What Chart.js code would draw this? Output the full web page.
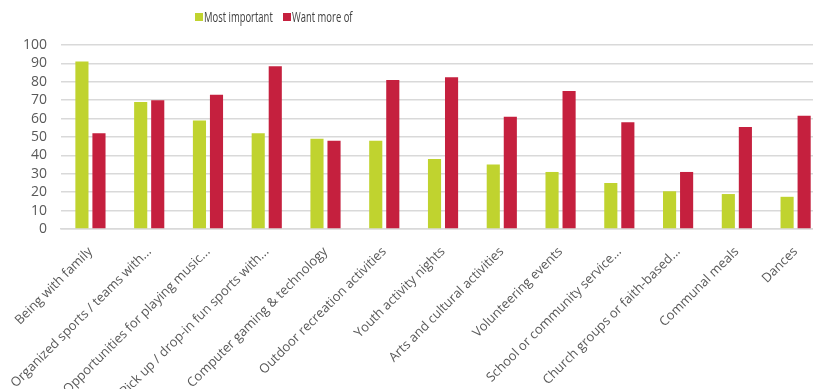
<!DOCTYPE html>
<html>
<head>
<meta charset="utf-8">
<script src="https://cdn.jsdelivr.net/npm/chart.js@4"></script>
<style>
  html, body { margin: 0; padding: 0; background: #fff; overflow: hidden; }
  #wrap { position: relative; width: 826px; height: 389px; }
  .lg { position: absolute; top: 6px; font-family: 'Open Sans', sans-serif; font-size: 15px; color: #404040; white-space: nowrap; }
  .lg .box { position: absolute; left: 0; top: 7px; width: 8px; height: 8px; }
  .lg .txt { position: absolute; left: 9px; top: 0; transform: scaleX(0.63); transform-origin: 0 0; }
</style>
</head>
<body>
<div id="wrap">
  <canvas id="chart" width="826" height="389"></canvas>
</div>
<script>
// categories as shown (truncated like the source)
const categories = [
    'Being with family',
    'Organized sports / teams with...',
    'Opportunities for playing music...',
    'Pick up / drop-in fun sports with...',
    'Computer gaming & technology',
    'Outdoor recreation activities',
    'Youth activity nights',
    'Arts and cultural activities',
    'Volunteering events',
    'School or community service...',
    'Church groups or faith-based...',
    'Communal meals',
    'Dances'
];
const mostImportant = [91, 69, 59, 52, 49, 48, 38, 35, 31, 25, 20.5, 19, 17.5];
const wantMoreOf = [52, 70, 73, 88.5, 48, 81, 82.5, 61, 75, 58, 31, 55.5, 61.5];
const yTicks = [0, 10, 20, 30, 40, 50, 60, 70, 80, 90, 100];

const seriesNames = ['Most important', 'Want more of'];
const seriesColors = ['#c0d32f', '#c5203e'];
const legendLeft = [195, 283];

// html legend
const wrap = document.getElementById('wrap');
seriesNames.forEach(function(name, i) {
    const item = document.createElement('div');
    item.className = 'lg';
    item.style.left = legendLeft[i] + 'px';
    item.innerHTML = '<span class="box" style="background:' + seriesColors[i] + '"></span><span class="txt">' + name + '</span>';
    wrap.appendChild(item);
});

const ctx = document.getElementById('chart').getContext('2d');
new Chart(ctx, {
    type: 'bar',
    data: {
        labels: categories,
        datasets: [{
            label: seriesNames[0],
            data: mostImportant,
            backgroundColor: seriesColors[0],
            categoryPercentage: 0.58,
            barPercentage: 0.77
        }, {
            label: seriesNames[1],
            data: wantMoreOf,
            backgroundColor: seriesColors[1],
            categoryPercentage: 0.58,
            barPercentage: 0.77
        }]
    },
    options: {
        responsive: false,
        animation: false,
        layout: { padding: { top: 45, right: 1, left: 0, bottom: 0 } },
        plugins: {
            legend: { display: false },
            tooltip: { enabled: false }
        },
        scales: {
            x: {
                grid: { display: false, drawTicks: false },
                border: { color: '#d9d9d9', width: 1.5 },
                ticks: {
                    autoSkip: false,
                    maxRotation: 45,
                    minRotation: 45,
                    padding: 15,
                    color: '#595959',
                    font: { family: 'Open Sans', size: 13 }
                },
                afterFit: function(scale) { scale.height = 160; }
            },
            y: {
                min: 0,
                max: 100,
                afterBuildTicks: function(scale) {
                    scale.ticks = yTicks.map(function(v) { return { value: v }; });
                },
                grid: { color: '#d9d9d9', lineWidth: 1.5, drawTicks: false },
                border: { display: false },
                ticks: {
                    autoSkip: false,
                    padding: 14,
                    color: '#595959',
                    font: { family: 'Open Sans', size: 14 }
                },
                afterFit: function(scale) { scale.width = 60; }
            }
        }
    }
});
</script>
</body>
</html>
